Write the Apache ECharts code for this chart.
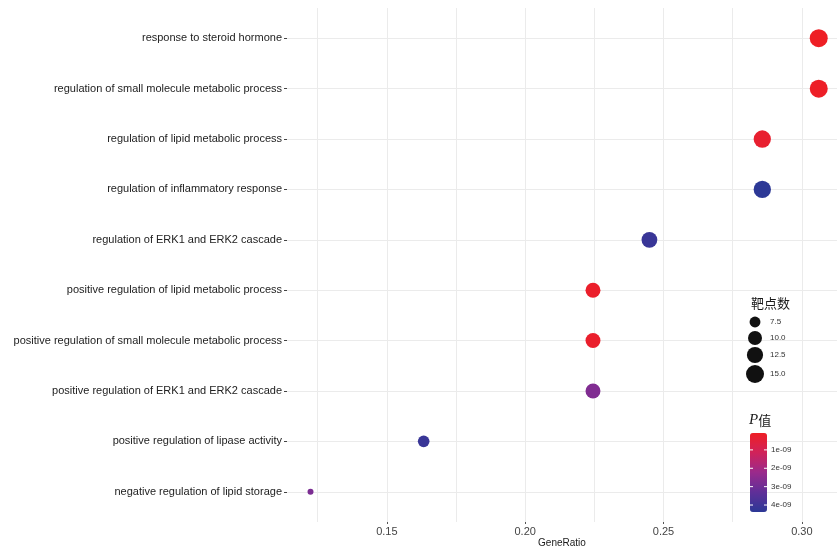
<!DOCTYPE html>
<html>
<head>
<meta charset="utf-8">
<script src="https://cdn.jsdelivr.net/npm/echarts@6/dist/echarts.min.js"></script>
<style>
  html, body { margin: 0; padding: 0; background: #fff; }
  #chart { width: 837px; height: 548px; }
</style>
</head>
<body>
<div id="chart"></div>
<script>
// GO enrichment terms, listed top to bottom
const terms = [
  'response to steroid hormone',
  'regulation of small molecule metabolic process',
  'regulation of lipid metabolic process',
  'regulation of inflammatory response',
  'regulation of ERK1 and ERK2 cascade',
  'positive regulation of lipid metabolic process',
  'positive regulation of small molecule metabolic process',
  'positive regulation of ERK1 and ERK2 cascade',
  'positive regulation of lipase activity',
  'negative regulation of lipid storage'
];
const geneRatio = [0.3061, 0.3061, 0.2857, 0.2857, 0.2449, 0.2245, 0.2245, 0.2245, 0.1633, 0.1224];
const targetCounts = [15, 15, 14, 14, 12, 11, 11, 11, 8, 6];
const pValues = [8e-11, 1.2e-10, 3.0e-10, 4.38e-9, 4.1e-9, 2.0e-10, 2.2e-10, 2.7e-9, 4.1e-9, 2.8e-9];

// axis breaks and legend breaks
const xLabelTicks = [0.15, 0.20, 0.25, 0.30];
const xGridTicks = [0.125, 0.15, 0.175, 0.20, 0.225, 0.25, 0.275, 0.30];
const sizeBreaks = [7.5, 10, 12.5, 15];
const pBreaks = [1e-9, 2e-9, 3e-9, 4e-9];

const gradient = ['#EE1F25', '#D0225A', '#9A2A8C', '#5F2F98', '#2C3896'];
const countMin = Math.min(...targetCounts);
const countMax = Math.max(...targetCounts);
const pMin = Math.min(...pValues);
const pMax = Math.max(...pValues);

function dotSize(c) {
  const t = Math.max(0, (c - countMin) / (countMax - countMin));
  return 6 + 12 * Math.sqrt(t);
}

const chart = echarts.init(document.getElementById('chart'), null, { renderer: 'canvas' });

// size legend and colour-bar tick labels
const graphics = [];
graphics.push({
  type: 'text', left: 751, top: 297, z: 10,
  style: { text: '靶点数', font: '13px "Noto Sans CJK SC"', fill: '#1a1a1a' }
});
const sizeRows = [322, 338, 355, 374];
sizeBreaks.forEach((b, i) => {
  const d = dotSize(b);
  graphics.push({
    type: 'circle', z: 10, shape: { cx: 755, cy: sizeRows[i], r: d / 2 },
    style: { fill: '#111' }
  });
  graphics.push({
    type: 'text', x: 770, y: sizeRows[i], z: 10,
    style: { text: b.toFixed(1), font: '8px "Liberation Sans"', fill: '#333', verticalAlign: 'middle' }
  });
});
graphics.push({
  type: 'text', left: 749, top: 413, z: 10,
  style: {
    text: '{p|P}{z|值}',
    rich: {
      p: { font: 'italic 15px "Liberation Serif"', fill: '#1a1a1a' },
      z: { font: '13px "Noto Sans CJK SC"', fill: '#1a1a1a' }
    }
  }
});
const barTop = 433, barH = 79;
pBreaks.forEach(v => {
  const y = barTop + (v - pMin) / (pMax - pMin) * barH;
  graphics.push({
    type: 'text', x: 771, y: y, z: 10,
    style: { text: v.toExponential(0).replace('e-', 'e-0'), font: '8px "Liberation Sans"', fill: '#333', verticalAlign: 'middle' }
  });
  graphics.push({ type: 'line', z: 10, shape: { x1: 750, y1: y, x2: 753, y2: y }, style: { stroke: '#fff', lineWidth: 1 } });
  graphics.push({ type: 'line', z: 10, shape: { x1: 764, y1: y, x2: 767, y2: y }, style: { stroke: '#fff', lineWidth: 1 } });
});

const option = {
  backgroundColor: '#fff',
  animation: false,
  grid: { left: 287, right: 0, top: 8, bottom: 26, outerBoundsMode: 'none', containLabel: false },
  xAxis: [{
    type: 'value', min: 0.1139, max: 0.3127,
    name: 'GeneRatio', nameLocation: 'middle', nameGap: 16, nameMoveOverlap: false,
    nameTextStyle: { fontFamily: 'Liberation Sans', fontSize: 10, color: '#1a1a1a' },
    axisLine: { show: false },
    axisTick: { show: false, customValues: xGridTicks },
    axisLabel: {
      customValues: xLabelTicks, margin: 4,
      fontFamily: 'Liberation Sans', fontSize: 11, color: '#444',
      formatter: v => v.toFixed(2)
    },
    splitLine: { show: true, lineStyle: { color: '#ebebeb', width: 1 } }
  }, {
    type: 'value', min: 0.1139, max: 0.3127, position: 'bottom',
    axisLine: { show: false },
    axisTick: { show: true, customValues: xLabelTicks, length: 2, inside: false, lineStyle: { color: '#555' } },
    axisLabel: { show: false },
    splitLine: { show: false }
  }],
  yAxis: {
    type: 'value', min: -0.6, max: 9.6, inverse: true,
    axisLine: { show: false },
    axisTick: { show: true, customValues: terms.map((t, i) => i), length: 3, lineStyle: { color: '#444' } },
    axisLabel: {
      customValues: terms.map((t, i) => i), margin: 5,
      fontFamily: 'Liberation Sans', fontSize: 11, color: '#222',
      formatter: v => terms[Math.round(v)]
    },
    splitLine: { show: true, lineStyle: { color: '#ebebeb', width: 1 } }
  },
  visualMap: {
    type: 'continuous', dimension: 3, seriesIndex: 0,
    min: pMin, max: pMax, inverse: true, calculable: false,
    orient: 'vertical', left: 750, top: barTop,
    itemWidth: 17, itemHeight: barH, text: null, showLabel: false,
    padding: 0,
    inRange: { color: gradient }
  },
  graphic: graphics,
  series: [{
    type: 'scatter',
    xAxisIndex: 0,
    data: terms.map((t, i) => [geneRatio[i], i, targetCounts[i], pValues[i]]),
    symbolSize: d => dotSize(d[2]),
    itemStyle: { opacity: 1 }
  }]
};
chart.setOption(option);
</script>
</body>
</html>
